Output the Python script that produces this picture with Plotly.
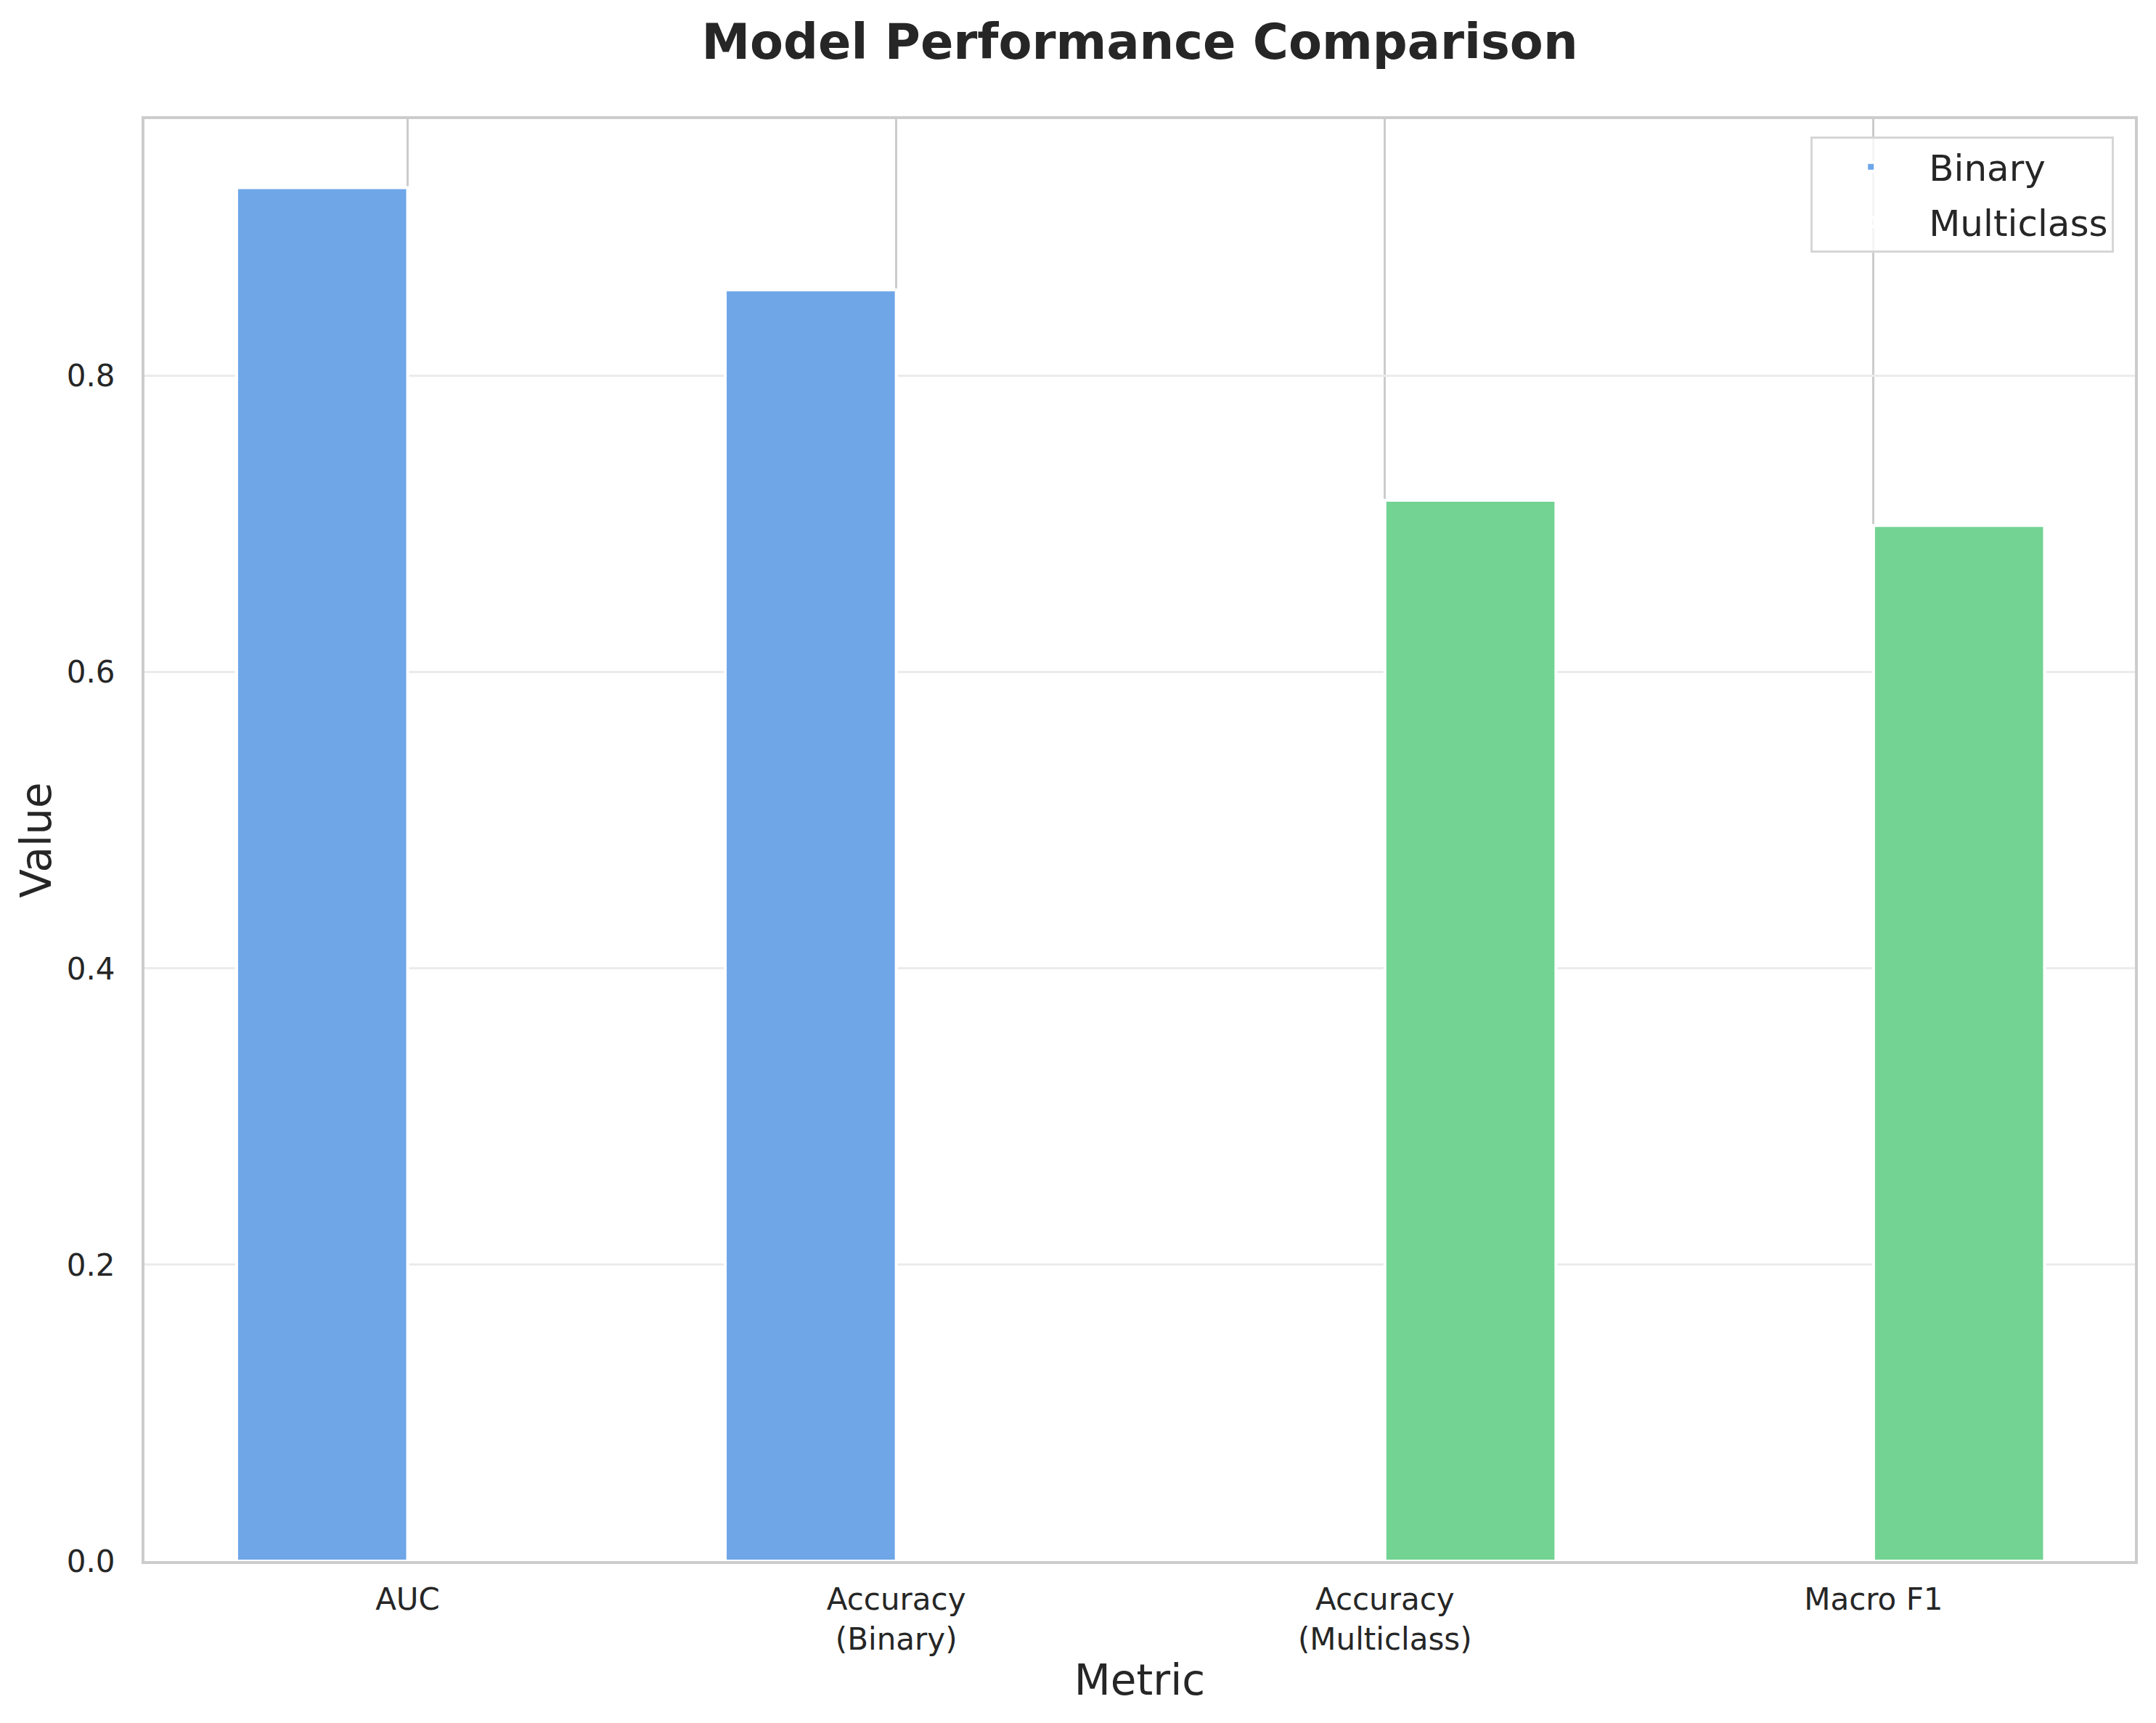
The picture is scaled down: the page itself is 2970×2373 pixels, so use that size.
import plotly.graph_objects as go

# Metric categories and values
metrics = ["AUC", "Accuracy<br>(Binary)", "Accuracy<br>(Multiclass)", "Macro F1"]
positions = [0, 1, 2, 3]
binary_values = [0.927, 0.858, None, None]
multiclass_values = [None, None, 0.716, 0.699]
y_ticks = [0.0, 0.2, 0.4, 0.6, 0.8]

BLUE = "rgb(110,166,232)"    # #4A90E2 at alpha 0.8 on white
GREEN = "rgb(115,211,147)"   # #50C878 at alpha 0.8 on white
CLEAR = "rgba(0,0,0,0)"
FONT = "DejaVu Sans"
TEXT = "#262626"

# page body adds an 8px margin, so the figure is 8px smaller than the window
W, H = 2962, 2365

fig = go.Figure()

fig.add_trace(go.Bar(
    x=positions, y=binary_values, name="Binary", legendgroup="binary",
    width=0.35, offset=-0.35,
    marker=dict(color=BLUE, line=dict(color="white", width=4)),
))

# first two multiclass slots are empty, so the legend patch comes out blank
fig.add_trace(go.Bar(
    x=positions, y=multiclass_values, name="Multiclass", legendgroup="multi",
    width=0.35, offset=0.0,
    marker=dict(color=[CLEAR, CLEAR, GREEN, GREEN],
                line=dict(color="white", width=4)),
))

top = max(v for v in binary_values + multiclass_values if v is not None) * 1.05

fig.update_layout(
    width=W, height=H,
    margin=dict(l=191, r=29, t=156, b=223),
    paper_bgcolor="white", plot_bgcolor="white",
    barmode="overlay",
    font=dict(family=FONT, color=TEXT),
    title=dict(text="<b>Model Performance Comparison</b>",
               x=1562 / W, xanchor="center", y=1 - 50 / H, yanchor="middle",
               yref="container", font=dict(size=67, color=TEXT)),
    legend=dict(x=0.9895, xanchor="right", y=0.988, yanchor="top",
                bgcolor="rgba(255,255,255,0.8)", bordercolor="#d6d6d6",
                borderwidth=3, font=dict(size=50, color=TEXT),
                itemwidth=150, tracegroupgap=8),
)

fig.update_xaxes(
    range=[-0.5386, 3.535],
    tickvals=positions, ticktext=metrics,
    tickfont=dict(size=42, color=TEXT), ticks="", ticklabelstandoff=13,
    showgrid=True, gridcolor="#cccccc", gridwidth=3,
    showline=True, linecolor="#cccccc", linewidth=4, mirror=True,
    zeroline=False,
    title=dict(text="Metric", font=dict(size=58, color=TEXT), standoff=13),
)

fig.update_yaxes(
    range=[0, top],
    tickvals=y_ticks, tickformat=".1f",
    tickfont=dict(size=42, color=TEXT), ticks="", ticklabelstandoff=28,
    showgrid=True, gridcolor="#ebebeb", gridwidth=3,
    showline=True, linecolor="#cccccc", linewidth=4, mirror=True,
    zeroline=False,
    title=dict(text="Value", font=dict(size=58, color=TEXT), standoff=4),
)

fig.write_html("out.html")
